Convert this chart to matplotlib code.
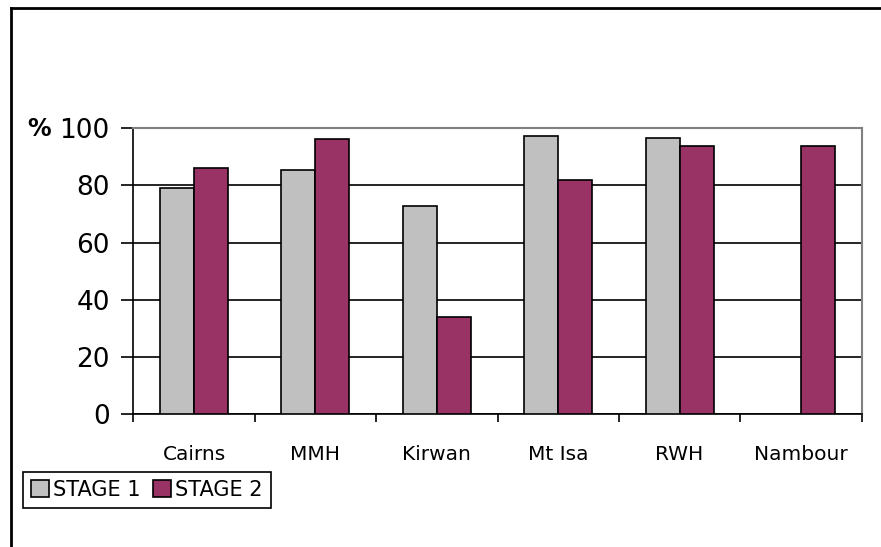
import numpy as np
import matplotlib.pyplot as plt
from matplotlib.lines import Line2D
from matplotlib.ticker import FixedLocator, NullFormatter

hospitals = ['Cairns', 'MMH', 'Kirwan', 'Mt Isa', 'RWH', 'Nambour']
stage1 = [79.0, 85.3, 72.7, 97.2, 96.5, np.nan]  # Nambour had no stage 1 figure
stage2 = [86.0, 96.4, 34.1, 81.8, 93.8, 93.7]
series_names = ['STAGE 1', 'STAGE 2']

plt.rcParams['font.family'] = ['DejaVu Sans']

fig = plt.figure(figsize=(8.81, 5.47), dpi=100)
ax = fig.add_axes([133.3 / 881, 1 - 414 / 547, (861.7 - 133.3) / 881, (414 - 128.3) / 547])

x = np.arange(len(hospitals))
w = 0.28
ax.bar(x - w / 2, stage1, w, color='#C0C0C0', edgecolor='black', linewidth=1.2, label=series_names[0], zorder=3)
ax.bar(x + w / 2, stage2, w, color='#993366', edgecolor='black', linewidth=1.2, label=series_names[1], zorder=3)

ax.set_xlim(-0.5, len(hospitals) - 0.5)
ax.set_ylim(0, 100)
ax.set_yticks(np.arange(0, 101, 20))
ax.yaxis.grid(True, color='black', linewidth=1.2, zorder=0)
ax.tick_params(axis='y', length=9, width=1.2, direction='out', pad=8, labelsize=19)

# ticks at the category boundaries, names centred between them
ax.xaxis.set_major_locator(FixedLocator(np.arange(len(hospitals) + 1) - 0.5))
ax.xaxis.set_major_formatter(NullFormatter())
ax.xaxis.set_minor_locator(FixedLocator(x))
ax.set_xticklabels(hospitals, minor=True)
ax.tick_params(axis='x', which='major', length=6, width=1.2, direction='out')
ax.tick_params(axis='x', which='minor', length=0, pad=22, labelsize=14.5)

for side in ['left', 'bottom']:
    ax.spines[side].set_color('black')
    ax.spines[side].set_linewidth(1.2)
for side in ['top', 'right']:
    ax.spines[side].set_color('#808080')
    ax.spines[side].set_linewidth(1.5)

fig.text(27 / 881, 1 - 129 / 547, '%', fontsize=17, fontweight='bold', va='center', ha='left')

leg = fig.legend(loc='upper left', bbox_to_anchor=(22.7 / 881, 1 - 471.7 / 547), ncol=2,
                 fontsize=15, frameon=True, fancybox=False, edgecolor='black', framealpha=1,
                 borderaxespad=0, handlelength=0.86, handleheight=0.86, handletextpad=0.2,
                 columnspacing=0.6, borderpad=0.4)
leg.get_frame().set_linewidth(1.2)

# outer chart frame (left and top edges only)
fig.add_artist(Line2D([11 / 881, 11 / 881], [0, 1 - 8 / 547], color='black', linewidth=2, transform=fig.transFigure))
fig.add_artist(Line2D([11 / 881, 1], [1 - 8 / 547, 1 - 8 / 547], color='black', linewidth=2, transform=fig.transFigure))

fig.savefig('out.png', dpi=100)
